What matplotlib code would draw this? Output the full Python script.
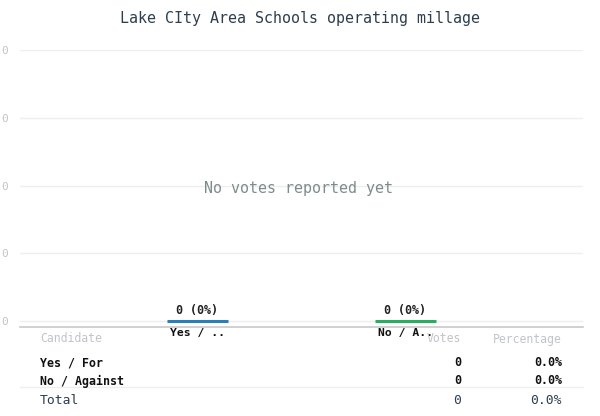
import matplotlib
matplotlib.use("Agg")
import matplotlib.pyplot as plt

# data
title = "Lake CIty Area Schools operating millage"
candidates = ["Yes / For", "No / Against"]
short_labels = ["Yes / ..", "No / A.."]
votes = [0, 0]
percents = [0.0, 0.0]
bar_colors = ["#2980b9", "#27ae60"]
y_ticks = [0, 1, 2, 3, 4]
y_tick_labels = ["0", "0", "0", "0", "0"]
empty_message = "No votes reported yet"

W, H = 600, 416
plt.rcParams["font.family"] = ["DejaVu Sans Mono", "DejaVu Sans"]

fig = plt.figure(figsize=(W / 100, H / 100), dpi=100)


def fx(x):
    return x / W


def fy(y):
    return 1 - y / H


# axes spans pixel x 20..583, y 50..327 (zero line at 321)
ax = fig.add_axes([fx(20), fy(327), fx(563), 277 / H])
unit = (321 - 50) / 4
ax.set_ylim(-6 / unit, 4)
ax.set_xlim(-177.5 / 208, 1 + 177.5 / 208)

xs = list(range(len(candidates)))
bar_w = 61 / 208
ax.hlines(votes, [x - bar_w / 2 for x in xs], [x + bar_w / 2 for x in xs],
          colors=bar_colors, linewidth=2.2, zorder=3)

for x, v, p in zip(xs, votes, percents):
    ax.annotate(f"{v} ({p:.0f}%)", (x, v), xytext=(0, 3), textcoords="offset points",
                ha="center", va="bottom", fontsize=8.4, fontweight="bold", color="#222222")

ax.set_yticks(y_ticks)
ax.set_yticklabels(y_tick_labels)
ax.set_xticks(xs)
ax.set_xticklabels(short_labels, fontsize=8.2, fontweight="bold", color="#111111")
ax.tick_params(axis="x", length=0, pad=1)
ax.tick_params(axis="y", length=0, pad=9, labelsize=8, labelcolor="#c4c4c4")
ax.grid(axis="y", color="#eeeeee", linewidth=1)
ax.set_axisbelow(True)
for s in ["top", "right", "left"]:
    ax.spines[s].set_visible(False)
ax.spines["bottom"].set_color("#c8c8c8")
ax.spines["bottom"].set_linewidth(1.2)

ax.text((298.5 - 20) / 563, (4 - (189 - 50) / unit + 6 / unit) / (4 + 6 / unit), empty_message,
        transform=ax.transAxes, ha="center", va="center", fontsize=10.8, color="#7f8c8d")

fig.text(0.5, fy(18), title, ha="center", va="center", fontsize=10.8, color="#2c3e50")

# results table under the chart
head_color = "#c0c4c8"
fig.text(fx(40), fy(339), "Candidate", ha="left", va="center", fontsize=8.3, color=head_color)
fig.text(fx(461), fy(339), "Votes", ha="right", va="center", fontsize=8.3, color=head_color)
fig.text(fx(562), fy(339), "Percentage", ha="right", va="center", fontsize=8.3, color=head_color)

row_y = [363, 381]
for name, v, p, y in zip(candidates, votes, percents, row_y):
    fig.text(fx(40), fy(y), name, ha="left", va="center", fontsize=8.4, fontweight="bold", color="#111111")
    fig.text(fx(461), fy(y), f"{v}", ha="right", va="center", fontsize=8.4, fontweight="bold", color="#111111")
    fig.text(fx(562), fy(y), f"{p:.1f}%", ha="right", va="center", fontsize=8.4, fontweight="bold", color="#111111")

fig.add_artist(plt.Line2D([fx(20), fx(583)], [fy(386.5), fy(386.5)], color="#eeeeee", linewidth=1))

total_votes = sum(votes)
total_pct = sum(percents)
fig.text(fx(40), fy(400), "Total", ha="left", va="center", fontsize=9.4, color="#2c3e50")
fig.text(fx(461), fy(400), f"{total_votes}", ha="right", va="center", fontsize=9.4, color="#2c3e50")
fig.text(fx(562), fy(400), f"{total_pct:.1f}%", ha="right", va="center", fontsize=9.4, color="#2c3e50")

fig.savefig("out.png", dpi=100)
